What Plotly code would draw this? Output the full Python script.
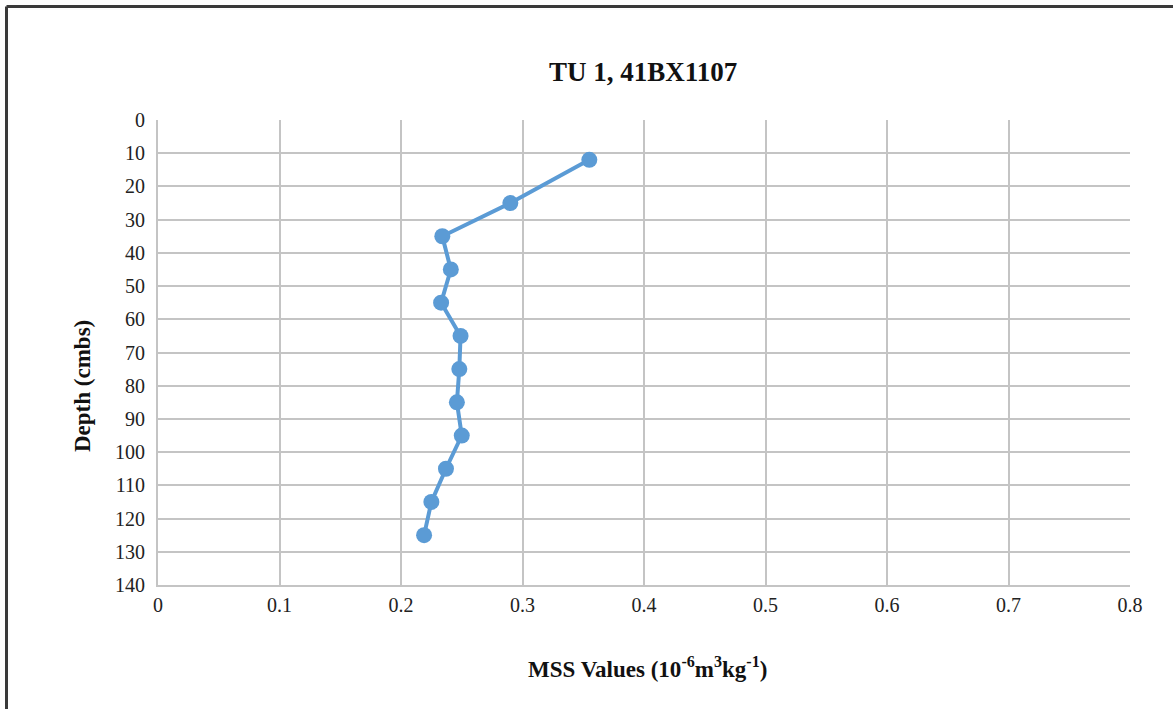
import plotly.graph_objects as go

# Magnetic susceptibility profile, TU 1
depth_cmbs = [12, 25, 35, 45, 55, 65, 75, 85, 95, 105, 115, 125]
mss_values = [0.355, 0.290, 0.234, 0.241, 0.233, 0.249, 0.248, 0.246, 0.250, 0.237, 0.225, 0.219]

x_ticks = [0, 0.1, 0.2, 0.3, 0.4, 0.5, 0.6, 0.7, 0.8]
x_tick_labels = ["0", "0.1", "0.2", "0.3", "0.4", "0.5", "0.6", "0.7", "0.8"]
y_ticks = list(range(0, 141, 10))

W, H = 1173, 709
L, R, T, B = 158, 43, 120, 124
pw, ph = W - L - R, H - T - B

def px_x(p):
    return (p - L) / pw

def px_y(p):
    return (H - B - p) / ph

serif = "Liberation Serif, Times New Roman, serif"
blue = "#5B9BD5"
grid = "#C4C4C4"
tick_font = dict(family=serif, size=20, color="#222")

fig = go.Figure()
fig.add_trace(go.Scatter(
    x=mss_values, y=depth_cmbs, mode="lines+markers",
    line=dict(color=blue, width=4),
    marker=dict(color=blue, size=16, symbol="circle"),
    showlegend=False,
))

fig.update_layout(
    width=W, height=H,
    margin=dict(l=L, r=R, t=T, b=B),
    paper_bgcolor="white", plot_bgcolor="white",
    font=dict(family=serif, color="#222", size=20),
    xaxis=dict(range=[0, 0.8], tickvals=x_ticks, ticktext=x_tick_labels,
               showgrid=True, gridcolor=grid, gridwidth=2,
               showline=True, linecolor=grid, linewidth=2, mirror=False,
               zeroline=False, ticks="", ticklen=0, ticklabelstandoff=1,
               tickfont=tick_font),
    yaxis=dict(range=[140, 0], tickvals=y_ticks,
               showgrid=True, gridcolor=grid, gridwidth=2,
               showline=True, linecolor=grid, linewidth=2,
               zeroline=False, ticks="", ticklen=0, ticklabelstandoff=7,
               tickfont=tick_font),
)

# Chart title and axis titles
fig.add_annotation(text="<b>TU 1, 41BX1107</b>", xref="paper", yref="paper",
                   x=px_x(643), y=px_y(72), xanchor="center", yanchor="middle",
                   showarrow=False, font=dict(family=serif, size=27, color="#111"))
fig.add_annotation(text="<b>MSS Values (10<sup>-6</sup>m<sup>3</sup>kg<sup>-1</sup>)</b>",
                   xref="paper", yref="paper", x=px_x(647), y=px_y(667),
                   xanchor="center", yanchor="middle", showarrow=False,
                   font=dict(family=serif, size=23, color="#111"))
fig.add_annotation(text="<b>Depth (cmbs)</b>", xref="paper", yref="paper",
                   x=px_x(82), y=px_y(386), xanchor="center", yanchor="middle",
                   showarrow=False, textangle=-90,
                   font=dict(family=serif, size=23, color="#111"))

# Outer chart frame (top and left edges)
frame = dict(color="#3a3a3a", width=3)
fig.add_shape(type="line", xref="paper", yref="paper",
              x0=px_x(6.5), x1=px_x(W + 20), y0=px_y(6.5), y1=px_y(6.5), line=frame)
fig.add_shape(type="line", xref="paper", yref="paper",
              x0=px_x(6.5), x1=px_x(6.5), y0=px_y(6.5), y1=px_y(H + 20), line=frame)

fig.write_html("out.html")
